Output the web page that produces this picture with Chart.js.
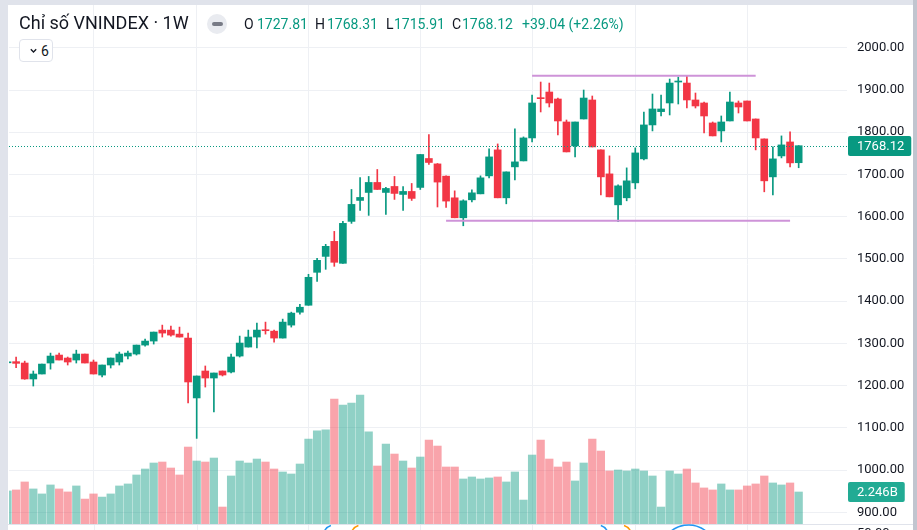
<!DOCTYPE html>
<html lang="vi">
<head>
<meta charset="utf-8">
<title>Chỉ số VNINDEX · 1W</title>
<script src="https://cdn.jsdelivr.net/npm/chart.js@4.4.7/dist/chart.umd.min.js"></script>
<style>
  html, body { margin: 0; padding: 0; background: #ffffff; }
  body { width: 917px; height: 530px; overflow: hidden; position: relative; font-family: Roboto, "Noto Sans", sans-serif; color: #131722; }
  #priceChart { position: absolute; left: 0; top: 0; }
  .frame-top { position: absolute; left: 0; top: 0; width: 917px; height: 5px; background: #e0e3eb; }
  .frame-left { position: absolute; left: 0; top: 0; width: 8px; height: 530px; background: #e0e3eb; }
  .frame-right { position: absolute; left: 913px; top: 0; width: 4px; height: 530px; background: #c1c5cf; }
  .legend-title { position: absolute; left: 19px; top: 13px; font-size: 18px; line-height: 20px; white-space: nowrap; }
  .legend-pill { position: absolute; left: 207px; top: 14px; width: 20px; height: 20px; border-radius: 50%; background: #e9ebf0; }
  .legend-pill span { position: absolute; left: 4.5px; top: 8px; width: 11px; height: 4px; border-radius: 2px; background: #787b86; }
  .ohlc { position: absolute; top: 16px; font-size: 14px; line-height: 16px; white-space: nowrap; }
  .ohlc.value { color: #089981; }
  .toggle { position: absolute; left: 19px; top: 39px; width: 34px; height: 23px; box-sizing: border-box; border: 1px solid #e0e3eb; border-radius: 4px; background: #ffffff; }
  .toggle svg { position: absolute; left: 10px; top: 8px; }
  .toggle span { position: absolute; left: 21px; top: 2px; font-size: 14px; line-height: 18px; }
</style>
</head>
<body>
<canvas id="priceChart" width="917" height="530"></canvas>
<div class="frame-top"></div>
<div class="frame-left"></div>
<div class="frame-right"></div>

<div class="legend-title">Chỉ số VNINDEX · 1W</div>
<div class="legend-pill"><span></span></div>
<div class="ohlc" style="left:244px">O</div>
<div class="ohlc value" style="left:257px">1727.81</div>
<div class="ohlc" style="left:315px">H</div>
<div class="ohlc value" style="left:327px">1768.31</div>
<div class="ohlc" style="left:386px">L</div>
<div class="ohlc value" style="left:394px">1715.91</div>
<div class="ohlc" style="left:452px">C</div>
<div class="ohlc value" style="left:462px">1768.12</div>
<div class="ohlc value" style="left:522px">+39.04 (+2.26%)</div>
<div class="toggle">
  <svg width="7" height="6" viewBox="0 0 7 6"><path d="M0.8 1.2 L3.5 4 L6.2 1.2" fill="none" stroke="#131722" stroke-width="1.3"/></svg>
  <span>6</span>
</div>

<script>
// weekly candles, oldest first
const opens = [1254, 1256.7, 1253.5, 1215.7, 1227.5, 1253.5, 1272.4, 1265.3, 1260.6, 1274.8,
  1255.9, 1225, 1248.8, 1255.9, 1270, 1274.8, 1296, 1305.5, 1331.5, 1331.5,
  1322, 1312.6, 1170.8, 1234.6, 1218, 1234.6, 1232.2, 1270, 1291.3, 1315,
  1331.5, 1329, 1312.6, 1343.3, 1373.8, 1390.3, 1468.3, 1506, 1541.6, 1489.6,
  1588.9, 1638.5, 1657.4, 1681.1, 1657.4, 1671.6, 1652.7, 1659.8, 1669.3, 1737.8,
  1725, 1696, 1644.7, 1597.4, 1640, 1654.1, 1696.7, 1758.2, 1644.7, 1718,
  1732.1, 1786.5, 1881, 1895.3, 1878.7, 1824.3, 1767.6, 1831.4, 1876.4, 1758.2,
  1701.4, 1628.1, 1644.7, 1680.1, 1736.9, 1817.3, 1848.8, 1869.3, 1918.9, 1916.5,
  1876.4, 1869.3, 1822, 1803.1, 1826.7, 1869.3, 1874, 1831.4, 1784.2, 1694.3,
  1743.9, 1777, 1727.81];
const highs = [1258, 1267.7, 1258, 1234.6, 1251, 1277, 1277, 1267.7, 1284, 1274.8,
  1260.6, 1248.8, 1265.3, 1279.5, 1281.9, 1296, 1310, 1326.8, 1343.3, 1341,
  1338.6, 1324.4, 1222.8, 1246.5, 1229.9, 1234.6, 1274.8, 1317.3, 1331.5, 1348,
  1350.4, 1331.5, 1357.5, 1374, 1392.7, 1463.6, 1501.4, 1534.5, 1565.2, 1588.9,
  1664.5, 1692.9, 1695.3, 1711.8, 1669.3, 1695.3, 1671.6, 1678.7, 1747.3, 1794.6,
  1726, 1697, 1661.2, 1640, 1663.6, 1696.7, 1760.5, 1772.3, 1706.1, 1807.8,
  1788.9, 1888.2, 1918.9, 1916.5, 1881, 1829, 1824.3, 1900, 1885.8, 1758.2,
  1744, 1675.4, 1715.6, 1763, 1848, 1890.5, 1888.2, 1926, 1930.7, 1933.1,
  1892.9, 1871.6, 1824.3, 1838.5, 1895.3, 1874, 1874, 1831.4, 1784.2, 1765.2,
  1791.3, 1800.7, 1768.31];
const lows = [1252, 1242.5, 1215, 1199, 1227.5, 1239, 1260.6, 1248.8, 1253.5, 1253.5,
  1227.5, 1220.4, 1241.7, 1248.8, 1263, 1272.4, 1293.7, 1298.4, 1315, 1317.3,
  1315, 1159, 1075, 1196.6, 1137.7, 1222.8, 1229.9, 1267.7, 1291.3, 1289,
  1322, 1303, 1312.6, 1338.6, 1369, 1390.3, 1447, 1475.4, 1482.5, 1489.6,
  1584.2, 1614.9, 1603.1, 1664.5, 1605.4, 1640.9, 1614.9, 1638.5, 1664.5, 1723.6,
  1623, 1622, 1597.4, 1578.5, 1635.2, 1654.1, 1692, 1644.7, 1630.5, 1687.2,
  1732.1, 1777, 1848, 1859.8, 1793.6, 1753.4, 1741.6, 1831.4, 1765.2, 1651.8,
  1647, 1588, 1637.6, 1666, 1734.5, 1803.1, 1838.5, 1840.9, 1866.9, 1857.4,
  1857.4, 1798.3, 1791.3, 1777, 1826.7, 1845.6, 1826.7, 1758.2, 1658.9, 1651.8,
  1739.2, 1718, 1715.91];
const closes = [1256, 1252.7, 1215.7, 1227.5, 1251, 1270, 1260.6, 1255.9, 1274.8, 1253.5,
  1227.5, 1248.8, 1265.3, 1274.8, 1277.1, 1296, 1305.5, 1326.8, 1324.4, 1319.7,
  1315, 1208.6, 1222.8, 1218, 1229.9, 1225.1, 1267.7, 1300.8, 1315, 1331.5,
  1330, 1312.6, 1350.4, 1371.7, 1385.6, 1456.5, 1496.7, 1529.8, 1492, 1584.2,
  1629.1, 1645.6, 1681.1, 1664.5, 1666.9, 1655.1, 1659.8, 1643.3, 1747.3, 1728.4,
  1682, 1637, 1597.4, 1637.6, 1656.5, 1692, 1741.6, 1644.7, 1706.1, 1729.8,
  1786.5, 1869.3, 1879.5, 1869.3, 1826.7, 1753.4, 1824.3, 1881, 1765.2, 1694.3,
  1647, 1673, 1684.9, 1751, 1817.3, 1855.1, 1855.1, 1916.5, 1921.3, 1876.4,
  1862.2, 1838.5, 1791.3, 1824.3, 1871.6, 1859.8, 1826.7, 1786.5, 1684.9, 1736.9,
  1770, 1727.4, 1768.12];
// volume in billions
const volumes = [2.32, 2.39, 2.95, 2.46, 2.11, 2.74, 2.46, 2.25, 2.67, 1.75,
  2.11, 1.89, 2.11, 2.67, 2.81, 3.44, 3.86, 4.28, 4.35, 3.93,
  3.44, 5.40, 4.42, 4.35, 4.63, 1.19, 3.37, 4.42, 4.28, 4.56,
  4.35, 3.86, 3.65, 3.51, 4.21, 5.96, 6.53, 6.60, 8.77, 8.35,
  8.49, 9.05, 6.46, 4.07, 5.61, 4.91, 4.42, 3.93, 4.70, 5.89,
  5.47, 4.00, 4.00, 3.16, 3.30, 3.16, 3.23, 3.30, 2.95, 3.65,
  1.68, 4.84, 5.89, 4.56, 4.00, 4.35, 3.02, 4.28, 5.96, 5.12,
  3.72, 3.79, 3.72, 3.86, 3.72, 3.37, 1.19, 3.72, 3.51, 3.86,
  2.88, 2.53, 2.39, 2.81, 2.39, 2.39, 2.67, 2.81, 3.37, 2.88,
  2.74, 2.88, 2.246];

const priceTicks = [900, 1000, 1100, 1200, 1300, 1400, 1500, 1600, 1700, 1800, 1900, 2000];
const gridWeeks = [10, 22, 35, 48, 61, 73, 86];

// drawn horizontal levels (resistance / support)
const levelPrices = [1933.8, 1590.5];
const levelFrom = [61, 51];
const levelTo = [87, 91];

// event badges on the time axis, mostly cut off
const eventWeeks = [38, 41.2, 68.6, 71.3, 79.2];
const eventColors = ["#2196f3", "#ff9800", "#2196f3", "#ff9800", "#2196f3"];

const upColor = "#089981";
const downColor = "#f23645";
const upVolume = "rgba(8, 153, 129, 0.45)";
const downVolume = "rgba(242, 54, 69, 0.45)";
const gridColor = "#eef0f4";
const axisFont = { family: "Roboto", size: 13 };

function isUp(i) {
  return closes[i] >= opens[i];
}

const bodyData = closes.map((close, i) => ({ x: i, y: [opens[i], close] }));
const wickData = closes.map((close, i) => ({ x: i, y: [lows[i], highs[i]] }));
const volumeData = volumes.map((value, i) => ({ x: i, y: value }));
const candleColors = closes.map((close, i) => (isUp(i) ? upColor : downColor));
const volumeColors = closes.map((close, i) => (isUp(i) ? upVolume : downVolume));

const levelSets = levelPrices.map((price, k) => ({
  type: "line",
  data: [{ x: levelFrom[k], y: price }, { x: levelTo[k], y: price }],
  borderColor: "#ce93d8",
  borderWidth: 2,
  pointRadius: 0,
  yAxisID: "y",
  order: 0,
}));

function drawValueLabel(ctx, left, y, text, color) {
  ctx.font = "13px Roboto";
  const width = ctx.measureText(text).width + 16;
  ctx.fillStyle = color;
  ctx.beginPath();
  ctx.roundRect(left, y - 10, width, 20, 2);
  ctx.fill();
  ctx.fillStyle = "#ffffff";
  ctx.textBaseline = "middle";
  ctx.textAlign = "left";
  ctx.fillText(text, left + 9, y + 0.5);
}

const overlayPlugin = {
  id: "overlay",
  afterDatasetsDraw(chart) {
    const { ctx, chartArea, scales } = chart;
    const y = Math.round(scales.y.getPixelForValue(closes[closes.length - 1])) + 0.5;
    ctx.save();
    ctx.strokeStyle = upColor;
    ctx.lineWidth = 1;
    ctx.setLineDash([1, 2]);
    ctx.beginPath();
    ctx.moveTo(chartArea.left, y);
    ctx.lineTo(chartArea.right, y);
    ctx.stroke();
    ctx.restore();
  },
  afterDraw(chart) {
    const { ctx, chartArea, scales } = chart;
    const lastIndex = closes.length - 1;
    ctx.save();

    // bottom pane below volume
    ctx.strokeStyle = "#e0e3eb";
    ctx.lineWidth = 1;
    ctx.beginPath();
    ctx.moveTo(8, chartArea.bottom + 0.5);
    ctx.lineTo(913, chartArea.bottom + 0.5);
    ctx.stroke();
    ctx.strokeStyle = gridColor;
    gridWeeks.forEach((week) => {
      const x = Math.round(scales.x.getPixelForValue(week)) + 0.5;
      ctx.beginPath();
      ctx.moveTo(x, chartArea.bottom + 1);
      ctx.lineTo(x, 530);
      ctx.stroke();
    });
    ctx.lineWidth = 1.5;
    eventWeeks.forEach((week, k) => {
      const x = scales.x.getPixelForValue(week);
      ctx.strokeStyle = eventColors[k];
      ctx.beginPath();
      if (k === eventWeeks.length - 1) {
        ctx.arc(x, chartArea.bottom + 29, 28, Math.PI * 1.2, Math.PI * 1.8);
      } else if (k < 2) {
        ctx.arc(x, chartArea.bottom + 12, 11, Math.PI * 1.1, Math.PI * 1.4);
      } else {
        ctx.arc(x, chartArea.bottom + 12, 11, Math.PI * 1.6, Math.PI * 1.9);
      }
      ctx.stroke();
    });
    ctx.fillStyle = "#131722";
    ctx.font = "13px Roboto";
    ctx.textBaseline = "middle";
    ctx.fillText("50.00", chartArea.right + 10, chartArea.bottom + 10);

    drawValueLabel(ctx, chartArea.right + 1, Math.round(scales.y.getPixelForValue(closes[lastIndex])), closes[lastIndex].toFixed(2), upColor);
    drawValueLabel(ctx, chartArea.right + 1, Math.round(scales.yv.getPixelForValue(volumes[lastIndex])), `${volumes[lastIndex].toFixed(3)}B`, "#22ab94");
    ctx.restore();
  },
};

new Chart(document.querySelector("#priceChart"), {
  type: "bar",
  data: {
    datasets: [
      ...levelSets,
      {
        data: bodyData,
        backgroundColor: candleColors,
        yAxisID: "y",
        grouped: false,
        barThickness: 7,
        maxBarThickness: 7,
        minBarLength: 1,
        order: 1,
      },
      {
        data: wickData,
        backgroundColor: candleColors,
        yAxisID: "y",
        grouped: false,
        barThickness: 1,
        maxBarThickness: 1,
        order: 2,
      },
      {
        data: volumeData,
        backgroundColor: volumeColors,
        yAxisID: "yv",
        grouped: false,
        barThickness: 7.6,
        maxBarThickness: 7.6,
        order: 3,
      },
    ],
  },
  options: {
    responsive: false,
    animation: false,
    events: [],
    layout: { padding: { left: 9, top: 5, right: 4, bottom: 6 } },
    plugins: { legend: { display: false }, tooltip: { enabled: false } },
    scales: {
      x: {
        type: "linear",
        min: 0.174,
        max: 97.62,
        offset: false,
        grid: { color: gridColor, offset: false, drawTicks: false },
        border: { display: false },
        ticks: { display: false },
        afterBuildTicks(scale) {
          scale.ticks = gridWeeks.map((value) => ({ value }));
        },
        afterFit(scale) {
          scale.height = 0;
          scale.paddingLeft = 0;
          scale.paddingRight = 0;
        },
      },
      y: {
        type: "linear",
        position: "right",
        min: 872.3,
        max: 2101.3,
        grid: { color: gridColor, drawTicks: false },
        border: { display: false },
        ticks: {
          padding: 10,
          color: "#131722",
          font: axisFont,
          callback: (value) => Number(value).toFixed(2),
        },
        afterBuildTicks(scale) {
          scale.ticks = priceTicks.map((value) => ({ value }));
        },
        afterFit(scale) {
          scale.width = 66;
          scale.paddingTop = 0;
          scale.paddingBottom = 0;
        },
      },
      yv: {
        type: "linear",
        display: false,
        min: 0,
        max: 36.42,
      },
    },
  },
  plugins: [overlayPlugin],
});
</script>
</body>
</html>
